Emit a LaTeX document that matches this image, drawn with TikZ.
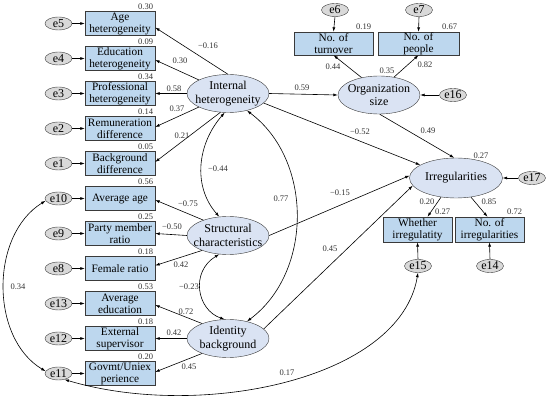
\documentclass[tikz,border=0pt]{standalone}
\usepackage{fontspec}
\setmainfont{Liberation Serif}
\usetikzlibrary{shapes.geometric,arrows.meta,calc}
\definecolor{boxfill}{HTML}{BDD7EE}
\definecolor{latfill}{HTML}{DAE3F3}
\definecolor{errfill}{HTML}{D9D9D9}
\definecolor{edgecol}{HTML}{3A3A3A}
\begin{document}
\begin{tikzpicture}[x=1pt,y=-1pt,
  obs/.style={draw=edgecol,fill=boxfill,minimum width=70pt,minimum height=24pt,inner sep=0pt,align=center,font=\fontsize{11.3}{12}\selectfont},
  lat/.style={draw=edgecol,fill=latfill,ellipse,minimum width=82pt,minimum height=38pt,inner sep=0pt},
  lattext/.style={align=center,inner sep=0pt,font=\fontsize{12}{13.5}\selectfont},
  err/.style={draw=edgecol,fill=errfill,ellipse,minimum width=27pt,minimum height=13pt,inner sep=0pt,font=\fontsize{12}{12}\selectfont},
  num/.style={font=\fontsize{8.5}{9}\selectfont,inner sep=0pt,text=black!80},
  rsq/.style={num,anchor=south east,xshift=-2pt,yshift=1.5pt},
  pth/.style={-{Latex[length=4.5pt,width=3pt]},line width=0.6pt},
  cov/.style={{Latex[length=4.5pt,width=3pt]}-{Latex[length=4.5pt,width=3pt]},line width=0.6pt}
]
\useasboundingbox (0,0) rectangle (550,406);
% observed boxes (left)
\node[obs] (age)   at (120,23.5)  {Age\\heterogeneity};
\node[obs] (edu)   at (120,58.5)  {Education\\heterogeneity};
\node[obs] (prof)  at (120,93.5)  {Professional\\heterogeneity};
\node[obs] (rem)   at (120,128.5) {Remuneration\\difference};
\node[obs] (back)  at (120,163.5) {Background\\difference};
\node[obs] (avage) at (120,198.5) {Average age};
\node[obs] (party) at (120,233.5) {Party member\\ratio};
\node[obs] (fem)   at (120,268.5) {Female ratio};
\node[obs] (avedu) at (120,303.5) {Average\\education};
\node[obs] (ext)   at (120,338.5) {External\\supervisor};
\node[obs] (gov)   at (120,373.5) {Govmt/Uniex\\perience};
% error terms (left)
\node[err] (e5)  at (58.5,23.5)  {e5};
\node[err] (e4)  at (58.5,58.5)  {e4};
\node[err] (e3)  at (58.5,93.5)  {e3};
\node[err] (e2)  at (58.5,128.5) {e2};
\node[err] (e1)  at (58.5,163.5) {e1};
\node[err] (e10) at (58.5,198.5) {e10};
\node[err] (e9)  at (58.5,233.5) {e9};
\node[err] (e8)  at (58.5,268.5) {e8};
\node[err] (e13) at (58.5,303.5) {e13};
\node[err] (e12) at (58.5,338.5) {e12};
\node[err] (e11) at (58.5,373.5) {e11};
% latent variables
\node[lat] (I)   at (228,93.5) {};
\node[lattext] (It) at (I) {Internal\\heterogeneity};
\node[lat] (S)   at (228,235.5) {};
\node[lattext] (St) at (S) {Structural\\characteristics};
\node[lat] (Id)  at (228,338.5) {};
\node[lattext] (Idt) at (Id) {Identity\\background};
\node[lat] (O)   at (379,95) {};
\node[lattext] (Ot) at (O) {Organization\\size};
\node[lat,minimum width=93pt,minimum height=40pt] (Irr) at (456,178) {};
\node[lattext] (Irrt) at (Irr) {Irregularities};
% right observed
\node[obs,minimum width=79pt,minimum height=23pt] (turn) at (333.5,43.5) {No. of\\turnover};
\node[obs,minimum width=81pt,minimum height=23pt] (peop) at (418.5,43.5) {No. of\\people};
\node[obs,minimum width=69pt,minimum height=25pt] (wh) at (417.5,229.5) {Whether\\irregulatity};
\node[obs,minimum width=69pt,minimum height=25pt] (noirr) at (489.5,229.5) {No. of\\irregularities};
\node[err] (e6)  at (335,10)  {e6};
\node[err] (e7)  at (419,10)  {e7};
\node[err] (e16) at (453,95)  {e16};
\node[err] (e17) at (532,178) {e17};
\node[err] (e15) at (418,266) {e15};
\node[err] (e14) at (490,266) {e14};
% error arrows
\foreach \e/\b in {e5/age,e4/edu,e3/prof,e2/rem,e1/back,e10/avage,e9/party,e8/fem,e13/avedu,e12/ext,e11/gov}
  \draw[pth] (\e.east) -- (\b.west);
\draw[pth] (e6.south) -- (turn.north);
\draw[pth] (e7.south) -- (peop.north);
\draw[pth] (e16.west) -- (O.east);
\draw[pth] (e17.west) -- (Irr.east);
\draw[pth] (e15.north) -- (wh.south);
\draw[pth] (e14.north) -- (noirr.south);
% R squared labels
\foreach \b/\v in {age/0.30,edu/0.09,prof/0.34,rem/0.14,back/0.05,avage/0.56,party/0.25,fem/0.18,avedu/0.53,ext/0.18,gov/0.20,turn/0.19,peop/0.67,wh/0.27,noirr/0.72}
  \node[rsq] (r-\b) at (\b.north east) {\v};
\node[num] (rO) at (387,71) {0.35};
\node[num] (rIrr) at (481,156) {0.27};
% paths from Internal heterogeneity
\draw[pth] (I.north) -- ($(age.east)+(0,4)$);
\draw[pth] (I.155) -- ($(edu.east)+(0,1.5)$);
\draw[pth] (I.west) -- (prof.east);
\draw[pth] (I.-155) -- ($(rem.east)+(0,-1.5)$);
\draw[pth] (I.-112) -- ($(back.east)+(0,-1.5)$);
\draw[pth] (I.east) -- (O.west);
\draw[pth] (I.-15) -- (Irr.160);
% paths from Structural characteristics
\draw[pth] (S.148) -- ($(avage.east)+(0,1.5)$);
\draw[pth] (S.west) -- (party.east);
\draw[pth] (S.-150) -- ($(fem.east)+(0,-3)$);
\draw[pth] (S.east) -- (Irr.177);
% paths from Identity background
\draw[pth] (Id.150) -- ($(avedu.east)+(0,1.5)$);
\draw[pth] (Id.west) -- (ext.east);
\draw[pth] (Id.-150) -- ($(gov.east)+(0,-1.5)$);
\draw[pth] (Id.15) -- (Irr.-170);
% paths from Organization size
\draw[pth] (O.135) -- (turn.south);
\draw[pth] (O.50) -- (peop.south);
\draw[pth] (O.-88) -- (Irr.95);
% paths from Irregularities
\draw[pth] (Irr.-128) -- ($(wh.north)+(10,0)$);
\draw[pth] (Irr.-52) -- ($(noirr.north)+(-2,0)$);
% covariances
\draw[cov] (I.-100) .. controls ($(I.-100)+(-27,31)$) and ($(S.115)+(-27,-31)$) .. (S.115);
\draw[cov] (I.-42) .. controls (313,160) and (313,272) .. (Id.42);
\draw[cov] (S.-115) .. controls (190,272) and (197,310) .. (Id.100);
\draw[cov] (e10.190) .. controls (-10,235) and (-10,338) .. (e11.170);
\draw[cov] (e11.-45) .. controls (200,420) and (400,380) .. (e15.south);
% coefficient labels
\node[num] (l1)  at (208,46)  {−0.16};
\node[num] (l2)  at (180,61)  {0.30};
\node[num] (l3)  at (174,89)  {0.58};
\node[num] (l4)  at (177,109) {0.37};
\node[num] (l5)  at (182,136) {0.21};
\node[num] (l6)  at (188,204) {−0.75};
\node[num] (l7)  at (172,227) {−0.50};
\node[num] (l8)  at (181,265) {0.42};
\node[num] (l9)  at (186,312) {0.72};
\node[num] (l10) at (174,333) {0.42};
\node[num] (l11) at (189,367) {0.45};
\node[num] (l12) at (218,169) {−0.44};
\node[num] (l13) at (281,199) {0.77};
\node[num] (l14) at (189,287) {−0.23};
\node[num] (l15) at (302,88)  {0.59};
\node[num] (l16) at (360,132) {−0.52};
\node[num] (l17) at (333,67)  {0.44};
\node[num] (l18) at (425,65)  {0.82};
\node[num] (l19) at (428,131) {0.49};
\node[num] (l20) at (340,193) {−0.15};
\node[num] (l21) at (330,249) {0.45};
\node[num] (l22) at (427,202) {0.20};
\node[num] (l23) at (489,202) {0.85};
\node[num] (l24) at (18,287)  {0.34};
\node[num] (l25) at (287,373) {0.17};
\end{tikzpicture}
\end{document}
